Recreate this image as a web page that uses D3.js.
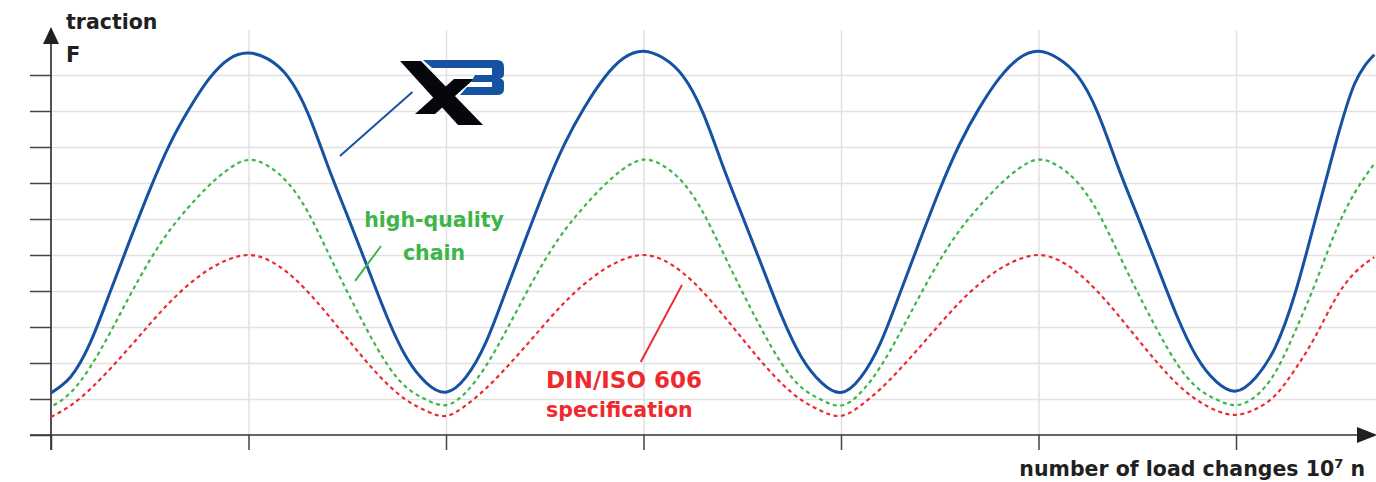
<!DOCTYPE html>
<html>
<head>
<meta charset="utf-8">
<script src="https://cdn.jsdelivr.net/npm/d3@7"></script>
<style>
  html, body { margin: 0; padding: 0; background: #fff; }
  svg { display: block; font-family: "DejaVu Sans", sans-serif; font-weight: bold; }
  .grid line { stroke: #e1e1e1; stroke-width: 1.5; }
  .ticks line { stroke: #444; stroke-width: 1.5; }
</style>
</head>
<body>
<svg id="chart"></svg>
<script>
const W = 1376, H = 482;

// load changes (grid units, 1 unit = one vertical gridline step)
const loadChanges = [0.0,0.1,0.2,0.3,0.4,0.5,0.6,0.7,0.8,0.9,1.0,1.1,1.2,1.3,1.4,1.5,1.6,1.7,1.8,1.9,
  2.0,2.1,2.2,2.3,2.4,2.5,2.6,2.7,2.8,2.9,3.0,3.1,3.2,3.3,3.4,3.5,3.6,3.7,3.8,3.9,
  4.0,4.1,4.2,4.3,4.4,4.5,4.6,4.7,4.8,4.9,5.0,5.1,5.2,5.3,5.4,5.5,5.6,5.7,5.8,5.9,
  6.0,6.1,6.2,6.3,6.4,6.5,6.6,6.7];

// traction F (grid units)
const x3Chain = [1.17,1.62,2.58,3.98,5.42,6.81,8.06,9.06,9.89,10.44,10.61,10.44,9.95,8.95,7.50,6.10,4.70,3.30,2.15,1.45,
  1.19,1.60,2.55,3.95,5.40,6.82,8.08,9.09,9.91,10.47,10.66,10.47,9.97,8.96,7.50,6.09,4.69,3.30,2.16,1.46,
  1.18,1.60,2.56,3.96,5.41,6.82,8.07,9.08,9.90,10.46,10.66,10.46,9.96,8.95,7.49,6.10,4.71,3.32,2.18,1.48,
  1.22,1.60,2.45,3.95,5.95,8.00,9.75,10.56];
const highQuality = [0.78,1.18,1.90,2.85,3.88,4.85,5.68,6.35,6.93,7.39,7.64,7.47,7.00,6.20,5.10,3.98,2.92,1.98,1.32,0.98,
  0.83,1.18,1.90,2.85,3.88,4.85,5.68,6.35,6.93,7.40,7.65,7.48,7.01,6.20,5.10,3.98,2.92,1.98,1.32,0.98,
  0.82,1.18,1.90,2.85,3.88,4.85,5.68,6.35,6.93,7.40,7.65,7.47,7.00,6.20,5.10,3.98,2.93,1.99,1.33,0.99,
  0.83,1.08,1.75,2.89,4.19,5.60,6.72,7.53];
const dinIso = [0.50,0.82,1.28,1.84,2.45,3.08,3.68,4.19,4.60,4.88,5.00,4.86,4.50,3.98,3.35,2.68,2.02,1.43,0.97,0.67,
  0.53,0.82,1.28,1.84,2.45,3.08,3.68,4.19,4.60,4.88,5.00,4.86,4.50,3.98,3.35,2.68,2.02,1.43,0.97,0.67,
  0.53,0.82,1.28,1.84,2.45,3.08,3.68,4.19,4.60,4.88,5.00,4.86,4.50,3.98,3.35,2.68,2.02,1.43,0.98,0.68,
  0.56,0.72,1.11,1.83,2.72,3.75,4.50,4.94];

const xTicks = [0, 1, 2, 3, 4, 5, 6];
const yTicks = [0, 1, 2, 3, 4, 5, 6, 7, 8, 9, 10];

// annotation pointers [x1, y1, x2, y2] in data units
const blueLabel = [1.463, 7.75, 1.83, 9.53];
const greenLabel = [1.54, 4.28, 1.671, 5.25];
const redLabel = [2.986, 2.03, 3.195, 4.17];

const x = d3.scaleLinear().domain([0, 6]).range([51, 1236]);
const y = d3.scaleLinear().domain([0, 10]).range([435, 75]);

const svg = d3.select("#chart").attr("width", W).attr("height", H);

// gridlines
svg.append("g")
    .attr("class", "grid")
    .attr("transform", `translate(${x(0)},0)`)
    .call(d3.axisLeft(y).tickValues(yTicks.slice(1)).tickSize(-(W - x(0))).tickFormat(""))
    .call(g => g.select(".domain").remove());

svg.append("g")
    .attr("class", "grid")
    .attr("transform", `translate(0,${y(0)})`)
    .call(d3.axisBottom(x).tickValues(xTicks.slice(1)).tickSize(-(y(0) - 30)).tickFormat(""))
    .call(g => g.select(".domain").remove());

// tick marks
svg.append("g")
    .attr("class", "ticks")
    .attr("transform", `translate(${x(0)},0)`)
    .call(d3.axisLeft(y).tickValues(yTicks).tickSize(21).tickFormat(""))
    .call(g => g.select(".domain").remove());

svg.append("g")
    .attr("class", "ticks")
    .attr("transform", `translate(0,${y(0)})`)
    .call(d3.axisBottom(x).tickValues(xTicks).tickSize(15).tickFormat(""))
    .call(g => g.select(".domain").remove());

// axis lines + arrows
svg.append("line").attr("x1", x(0)).attr("x2", x(0)).attr("y1", 450).attr("y2", 40)
    .attr("stroke", "#333").attr("stroke-width", 1.7);
svg.append("line").attr("x1", 30).attr("x2", 1362).attr("y1", y(0)).attr("y2", y(0))
    .attr("stroke", "#333").attr("stroke-width", 1.7);
svg.append("path").attr("d", `M${x(0)},27 L${x(0) - 8},44 L${x(0) + 8},44 Z`).attr("fill", "#231f20");
svg.append("path").attr("d", `M1377,${y(0)} L1357,${y(0) - 8} L1357,${y(0) + 8} Z`).attr("fill", "#231f20");

// curves
const line = d3.line()
    .x((d, i) => x(loadChanges[i]))
    .y(d => y(d))
    .curve(d3.curveNatural);

svg.append("path").datum(dinIso)
    .attr("d", line).attr("fill", "none")
    .attr("stroke", "#ee2a2f").attr("stroke-width", 2.2).attr("stroke-dasharray", "4,3.5");

svg.append("path").datum(highQuality)
    .attr("d", line).attr("fill", "none")
    .attr("stroke", "#3db54a").attr("stroke-width", 2.2).attr("stroke-dasharray", "4,3.5")
    .attr("stroke-dashoffset", -3);

svg.append("path").datum(x3Chain)
    .attr("d", line).attr("fill", "none")
    .attr("stroke", "#1652a2").attr("stroke-width", 3);

// pointer lines
[[blueLabel, "#1652a2"], [greenLabel, "#3db54a"], [redLabel, "#ee2a2f"]].forEach(([p, c]) => {
    svg.append("line")
        .attr("x1", x(p[0])).attr("y1", y(p[1]))
        .attr("x2", x(p[2])).attr("y2", y(p[3]))
        .attr("stroke", c).attr("stroke-width", 2);
});

// X3 logo
const logo = svg.append("g").attr("transform", "translate(400,60)");
logo.append("path").attr("d", "M0,1 L21,1 L83,65 L58,65 Z").attr("fill", "#05070c");
logo.append("path").attr("d", "M15,54 L35,54 L74,19 L54,19 Z").attr("fill", "#05070c");
logo.append("path")
    .attr("d", "M23,0 L97,0 Q104,0 104,7 L104,14 Q104,18 100,18.5 Q104,19 104,23 L104,29 Q104,35 97,35 L60,35 L67,27 L92,27 L92,22 L71,22 L75,15 L92,15 L92,8 L32,8 Z")
    .attr("fill", "#1652a2");

// texts
const txt = (t, px, py, size, color, anchor) => svg.append("text")
    .attr("x", px).attr("y", py)
    .attr("font-size", size).attr("fill", color)
    .attr("text-anchor", anchor || "start")
    .text(t);

txt("traction", 66, 29, 20.5, "#231f20");
txt("F", 66, 62, 21, "#231f20");
txt("high-quality", 434, 227, 20.5, "#3db54a", "middle");
txt("chain", 434, 260, 20.5, "#3db54a", "middle");
txt("DIN/ISO 606", 546, 388, 23, "#ee2a2f");
txt("specification", 546, 417, 20.5, "#ee2a2f");

const xl = svg.append("text")
    .attr("x", 1365).attr("y", 476)
    .attr("font-size", 20.5).attr("fill", "#231f20")
    .attr("text-anchor", "end");
xl.append("tspan").text("number of load changes 10");
xl.append("tspan").attr("font-size", 13).attr("dy", -8).text("7");
xl.append("tspan").attr("dy", 8).text(" n");
</script>
</body>
</html>
